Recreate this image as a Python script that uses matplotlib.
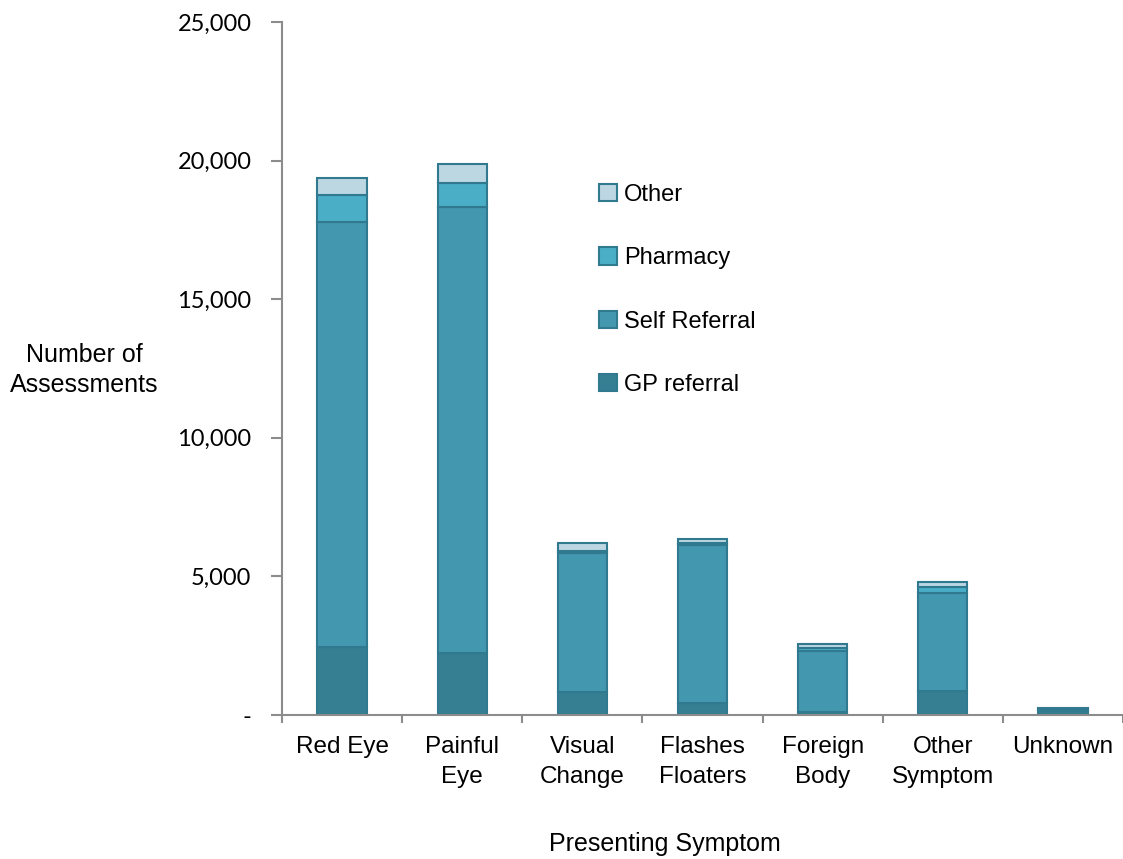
import matplotlib
matplotlib.use("Agg")
import matplotlib.pyplot as plt
import numpy as np
from matplotlib.ticker import FuncFormatter

categories = ["Red Eye", "Painful\nEye", "Visual\nChange", "Flashes\nFloaters",
              "Foreign\nBody", "Other\nSymptom", "Unknown"]
gp_referral = [2450, 2240, 830, 420, 120, 870, 150]
self_referral = [15330, 16090, 5010, 5710, 2190, 3530, 80]
pharmacy = [980, 860, 80, 80, 110, 220, 0]
other = [610, 690, 280, 140, 140, 180, 20]

series = [("GP referral", gp_referral, "#367F93"),
          ("Self Referral", self_referral, "#4398B0"),
          ("Pharmacy", pharmacy, "#4BAEC7"),
          ("Other", other, "#BCD7E2")]

fig = plt.figure(figsize=(11.23, 8.59), dpi=100)
ax = fig.add_axes([0.2511, 0.1676, 0.7489, 0.8068])

x = np.arange(len(categories))
bottom = np.zeros(len(categories))
handles = []
for name, vals, col in series:
    v = np.array(vals, dtype=float)
    h = ax.bar(x, v, 0.41, bottom=bottom, color=col, edgecolor="#31798E",
               linewidth=1.5, label=name)
    handles.append(h)
    bottom += v

ax.set_xlim(-0.5, len(categories) - 0.5)
ax.set_ylim(0, 25000)
ax.set_yticks(np.arange(0, 25001, 5000))
ax.yaxis.set_major_formatter(FuncFormatter(lambda v, p: "-" if v == 0 else f"{int(v):,}"))
ax.set_xticks(np.arange(-0.5, len(categories), 1.0))
ax.set_xticklabels([])
ax.set_xticks(x, minor=True)
ax.set_xticklabels(categories, minor=True, fontsize=17.5, family="Liberation Sans",
                   linespacing=1.5)
ax.tick_params(axis="x", which="minor", length=0, pad=15)
ax.tick_params(axis="x", which="major", length=6, color="#8C8C8C", width=1.5)
ax.tick_params(axis="y", length=8, color="#8C8C8C", width=1.5, pad=14)
for lab in ax.get_yticklabels():
    lab.set_family("Lato")
    lab.set_fontsize(17)

for s in ["top", "right"]:
    ax.spines[s].set_visible(False)
for s in ["left", "bottom"]:
    ax.spines[s].set_color("#8C8C8C")
    ax.spines[s].set_linewidth(1.5)

fig.text(0.075, 0.569, "Number of\nAssessments", ha="center", va="center",
         fontsize=18, family="Liberation Sans", linespacing=1.3)
fig.text(0.592, 0.018, "Presenting Symptom", ha="center", va="center",
         fontsize=18, family="Liberation Sans")

leg = ax.legend(handles[::-1], [s[0] for s in series][::-1], loc="upper left",
                bbox_to_anchor=(0.352, 0.797), frameon=False,
                prop={"family": "Liberation Sans", "size": 17},
                labelspacing=1.75, handlelength=0.75, handleheight=0.75,
                handletextpad=0.3)

fig.savefig("out.png", dpi=100)
